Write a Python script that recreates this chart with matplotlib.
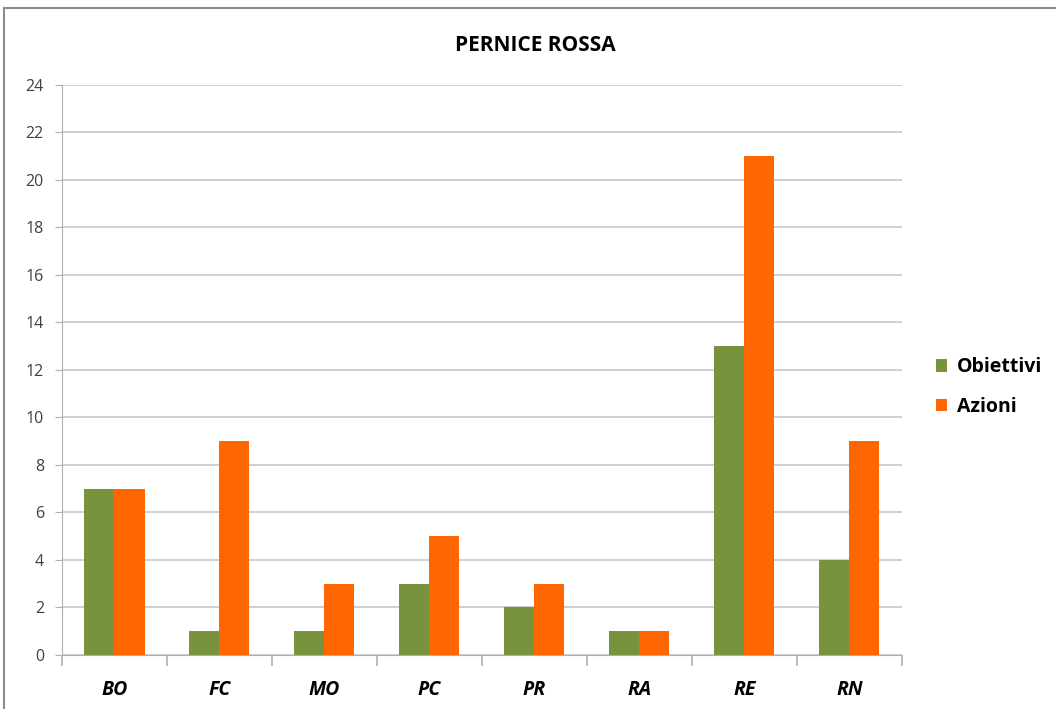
"""Grafico a barre - Pernice Rossa: obiettivi e azioni per provincia"""
import numpy as np
import matplotlib
matplotlib.use('Agg')
import matplotlib.pyplot as plt
from matplotlib.patches import Rectangle

plt.rcParams['font.family'] = ['Open Sans', 'DejaVu Sans']

# dati
province = ['BO', 'FC', 'MO', 'PC', 'PR', 'RA', 'RE', 'RN']
obiettivi = [7, 1, 1, 3, 2, 1, 13, 4]
azioni = [7, 9, 3, 5, 3, 1, 21, 9]

fig = plt.figure(figsize=(10.56, 7.09), dpi=100)
ax = fig.add_axes([0.0587, 0.0762, 0.7953, 0.804])

# cornice del grafico
fig.patches.append(Rectangle((0.004, -0.01), 1.2, 0.9987, transform=fig.transFigure,
                             fill=False, edgecolor='#8c8c8c', linewidth=1.5))

x = np.arange(len(province))
w = 0.286
ax.bar(x - w / 2, obiettivi, w, color='#77933C', label='Obiettivi', zorder=3)
ax.bar(x + w / 2, azioni, w, color='#FF6600', label='Azioni', zorder=3)

ax.set_xlim(-0.5, len(province) - 0.5)
ax.set_ylim(0, 24)
ax.set_yticks(range(0, 25, 2))
ax.grid(axis='y', color='#c8c8c8', linewidth=1.2, zorder=0)

for s in ['top', 'right']:
    ax.spines[s].set_visible(False)
ax.spines['left'].set_color('#b0b0b0')
ax.spines['bottom'].set_color('#b0b0b0')

ax.set_xticks(x)
ax.set_xticklabels(province, fontsize=14, fontweight='bold', fontstyle='italic')
ax.tick_params(axis='x', length=0, pad=18)
ax.set_xticks(np.arange(-0.5, len(province)), minor=True)
ax.tick_params(axis='x', which='minor', length=8, color='#b0b0b0', width=1.2)
ax.tick_params(axis='y', labelsize=11.5, length=5, color='#b0b0b0', pad=8,
               labelcolor='#404040')

# titolo centrato sulla figura
fig.text(0.507, 0.936, 'PERNICE ROSSA', fontsize=15, fontweight='bold',
         ha='center', va='center')

ax.legend(loc='center left', bbox_to_anchor=(1.02, 0.47), frameon=False,
          prop={'weight': 'bold', 'size': 14}, handlelength=0.55, handleheight=0.6,
          handletextpad=0.5, labelspacing=1.0)

fig.savefig('out.png', facecolor='white')
